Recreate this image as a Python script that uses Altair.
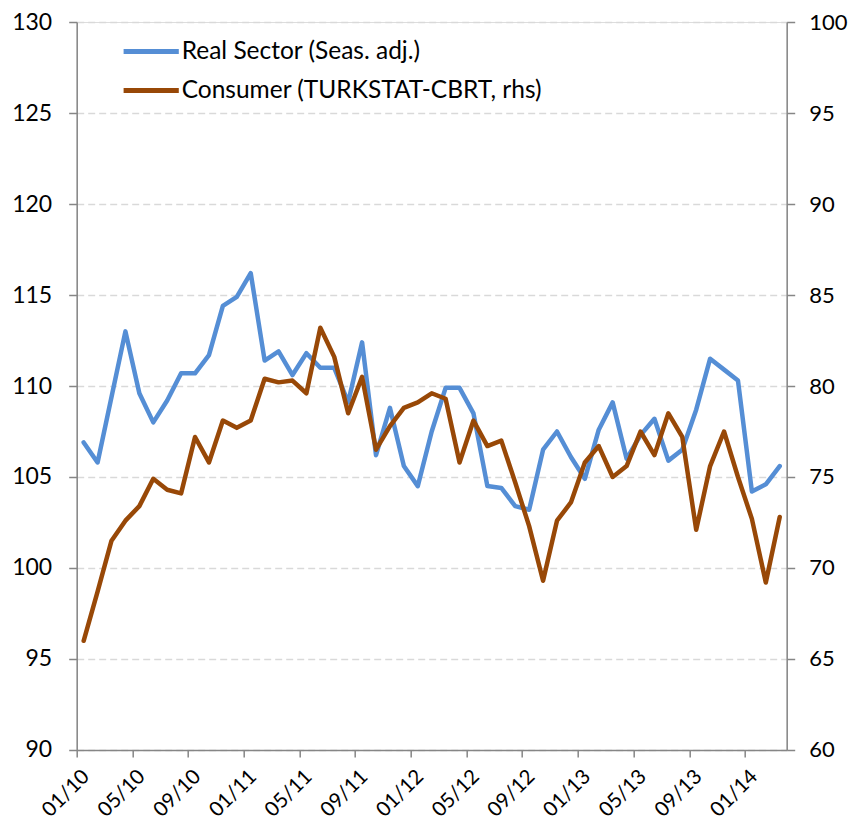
import json
import altair as alt
import pandas as pd

# ---- data (monthly, 01/2010 .. 03/2014) ----
real_sector = [106.9, 105.8, 109.4, 113.0, 109.6, 108.0, 109.2, 110.7, 110.7, 111.7,
               114.4, 114.9, 116.2, 111.4, 111.9, 110.6, 111.8, 111.0, 111.0, 109.1,
               112.4, 106.2, 108.8, 105.6, 104.5, 107.5, 109.9, 109.9, 108.5, 104.5,
               104.4, 103.4, 103.2, 106.5, 107.5, 106.1, 104.9, 107.6, 109.1, 106.0,
               107.3, 108.2, 105.9, 106.5, 108.7, 111.5, 110.9, 110.3, 104.2, 104.6,
               105.6]
consumer = [66.0, 68.7, 71.5, 72.6, 73.4, 74.9, 74.3, 74.1, 77.2, 75.8,
            78.1, 77.7, 78.1, 80.4, 80.2, 80.3, 79.6, 83.2, 81.6, 78.5,
            80.5, 76.5, 77.8, 78.8, 79.1, 79.6, 79.3, 75.8, 78.1, 76.7,
            77.0, 74.7, 72.3, 69.3, 72.6, 73.6, 75.8, 76.7, 75.0, 75.6,
            77.5, 76.2, 78.5, 77.2, 72.1, 75.6, 77.5, 75.0, 72.7, 69.2,
            72.8]
tick_labels = ["01/10", "05/10", "09/10", "01/11", "05/11", "09/11", "01/12",
               "05/12", "09/12", "01/13", "05/13", "09/13", "01/14"]
series_names = ["Real Sector (Seas. adj.)", "Consumer (TURKSTAT-CBRT, rhs)"]
colors = ["#558ED5", "#984807"]

n = len(real_sector)
df = pd.DataFrame({
    "idx": list(range(n)) * 2,
    "value": real_sector + consumer,
    "series": [series_names[0]] * n + [series_names[1]] * n,
})

FONT = "Lato"
AXIS_GRAY = "#868686"

tick_vals = [4 * k - 0.5 for k in range(len(tick_labels))]
label_expr = json.dumps(tick_labels) + "[round((datum.value + 0.5) / 4)]"

x_enc = alt.X(
    "idx:Q",
    scale=alt.Scale(domain=[-0.5, n - 0.5], nice=False, zero=False),
    axis=alt.Axis(
        values=tick_vals, labelExpr=label_expr, title=None, grid=False,
        labelAngle=-45, labelAlign="right", labelBaseline="top",
        labelOffset=2, labelPadding=9, labelFontSize=20.5, labelFont=FONT,
        labelColor="black", tickSize=7, tickColor=AXIS_GRAY, tickWidth=1.5,
        domainColor=AXIS_GRAY, domainWidth=1.5, labelOverlap=False,
        labelBound=False, labelFlush=False,
    ),
)

color_enc = alt.Color(
    "series:N",
    scale=alt.Scale(domain=series_names, range=colors),
    legend=alt.Legend(
        title=None, orient="none", legendX=49, legendY=4, padding=0,
        symbolType="M-1.2,0H1.2", symbolSize=2116, symbolStrokeWidth=5,
        symbolFillColor="transparent",
        labelFontSize=24.5, labelFont=FONT, labelColor="black", labelLimit=500,
        labelOffset=5, rowPadding=2,
    ),
)

left = alt.Chart(df).transform_filter(
    alt.datum.series == series_names[0]
).mark_line(strokeWidth=4.5, strokeJoin="round", strokeCap="round").encode(
    x=x_enc,
    y=alt.Y(
        "value:Q",
        scale=alt.Scale(domain=[90, 130], nice=False, zero=False),
        axis=alt.Axis(
            orient="left", values=list(range(90, 131, 5)), title=None,
            grid=True, gridColor="#D9D9D9", gridDash=[7, 4], gridWidth=1.5,
            domainColor=AXIS_GRAY, domainWidth=1.5, tickColor=AXIS_GRAY,
            tickWidth=1.5, tickSize=8, labelFontSize=23, labelFont=FONT,
            labelColor="black", labelPadding=17,
        ),
    ),
    color=color_enc,
)

right = alt.Chart(df).transform_filter(
    alt.datum.series == series_names[1]
).mark_line(strokeWidth=4.5, strokeJoin="round", strokeCap="round").encode(
    x=x_enc,
    y=alt.Y(
        "value:Q",
        scale=alt.Scale(domain=[60, 100], nice=False, zero=False),
        axis=alt.Axis(
            orient="right", values=list(range(60, 101, 5)), title=None,
            grid=False, domainColor=AXIS_GRAY, domainWidth=1.5,
            tickColor=AXIS_GRAY, tickWidth=1.5, tickSize=8,
            labelFontSize=22, labelFont=FONT, labelColor="black",
            labelPadding=14,
        ),
    ),
    color=color_enc,
)

chart = alt.layer(left, right).resolve_scale(y="independent").properties(
    width=710,
    height=728,
    autosize=alt.AutoSizeParams(type="none"),
    padding={"left": 68.7, "top": 14, "right": 61, "bottom": 74},
).configure_view(stroke=None).configure(font=FONT, background="white")

chart.save("out.html", embed_options={"renderer": "svg", "actions": False})
